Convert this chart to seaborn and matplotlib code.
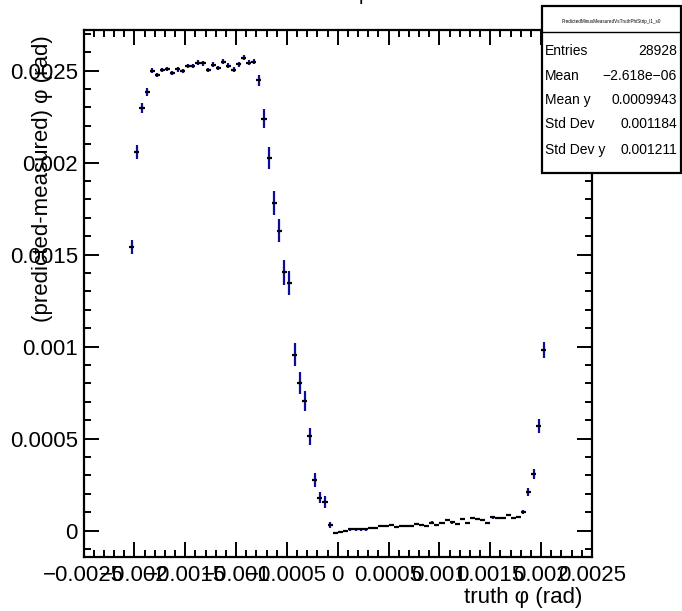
import matplotlib
matplotlib.use("Agg")
import matplotlib.pyplot as plt
import numpy as np
import seaborn as sns
from matplotlib.lines import Line2D
from matplotlib.patches import Rectangle

# profile binning (82 bins of 5e-5 rad)
BIN_LOW, BIN_HIGH, N_BINS = -0.00205, 0.00205, 82

MEAN_DIFF = [
    0.001542, 0.002056, 0.002297, 0.002384, 0.002500, 0.002477, 0.002504, 0.002509,
    0.002488, 0.002507, 0.002498, 0.002525, 0.002525, 0.002544, 0.002540, 0.002504,
    0.002533, 0.002513, 0.002549, 0.002527, 0.002506, 0.002534, 0.002571, 0.002544,
    0.002549, 0.002447, 0.002240, 0.002026, 0.001781, 0.001630, 0.001404, 0.001346,
    0.000957, 0.000804, 0.000705, 0.000513, 0.000277, 0.000179, 0.000158, 0.000031,
    -0.000011, -0.000009, 0.000000, 0.000007, 0.000007, 0.000007, 0.000007, 0.000015,
    0.000016, 0.000025, 0.000024, 0.000029, 0.000020, 0.000024, 0.000024, 0.000024,
    0.000038, 0.000033, 0.000024, 0.000044, 0.000033, 0.000042, 0.000058, 0.000045,
    0.000038, 0.000062, 0.000040, 0.000069, 0.000062, 0.000060, 0.000042, 0.000072,
    0.000069, 0.000069, 0.000085, 0.000070, 0.000074, 0.000103, 0.000208, 0.000310,
    0.000567, 0.000984,
]

MEAN_ERR = [
    0.000038, 0.000038, 0.000025, 0.000020, 0.000012, 0.000012, 0.000012, 0.000012,
    0.000012, 0.000012, 0.000012, 0.000012, 0.000012, 0.000012, 0.000012, 0.000012,
    0.000012, 0.000012, 0.000012, 0.000012, 0.000012, 0.000012, 0.000012, 0.000012,
    0.000012, 0.000031, 0.000049, 0.000058, 0.000063, 0.000063, 0.000067, 0.000066,
    0.000063, 0.000060, 0.000056, 0.000047, 0.000038, 0.000029, 0.000033, 0.000018,
    0.000006, 0.000006, 0.000006, 0.000006, 0.000006, 0.000006, 0.000006, 0.000006,
    0.000006, 0.000006, 0.000006, 0.000006, 0.000006, 0.000006, 0.000006, 0.000006,
    0.000006, 0.000006, 0.000006, 0.000006, 0.000006, 0.000006, 0.000006, 0.000006,
    0.000006, 0.000006, 0.000006, 0.000006, 0.000006, 0.000006, 0.000006, 0.000006,
    0.000006, 0.000006, 0.000006, 0.000006, 0.000006, 0.000012, 0.000022, 0.000027,
    0.000038, 0.000043,
]

X_TICKS = [-0.0025, -0.002, -0.0015, -0.001, -0.0005, 0, 0.0005, 0.001, 0.0015, 0.002, 0.0025]
X_TICK_LABELS = ["\u22120.0025", "\u22120.002", "\u22120.0015", "\u22120.001", "\u22120.0005",
                 "0", "0.0005", "0.001", "0.0015", "0.002", "0.0025"]
Y_TICKS = [0, 0.0005, 0.001, 0.0015, 0.002, 0.0025]
Y_TICK_LABELS = ["0", "0.0005", "0.001", "0.0015", "0.002", "0.0025"]

STATS_TITLE = "PredictedMinusMeasuredVsTruthPhiStrip_l1_s0"
STATS_NAMES = ["Entries", "Mean", "Mean y", "Std Dev", "Std Dev y"]
STATS_VALUES = ["28928", "\u22122.618e\u221206", "0.0009943", "0.001184", "0.001211"]

W, H = 682, 611
BLUE = "#0d0d9c"


def fx(px):
    return px / W


def fy(py):
    return 1 - py / H


sns.set_style("ticks")
plt.rcParams["font.family"] = ["Liberation Sans", "DejaVu Sans"]
plt.rcParams["text.color"] = "black"
plt.rcParams["xtick.labelcolor"] = "black"
plt.rcParams["ytick.labelcolor"] = "black"

edges = np.linspace(BIN_LOW, BIN_HIGH, N_BINS + 1)
centers = 0.5 * (edges[:-1] + edges[1:])
half_w = 0.5 * (edges[1] - edges[0])

fig = plt.figure(figsize=(W / 100, H / 100), dpi=100)
ax = fig.add_axes([fx(83.5), fy(557), (592 - 83.5) / W, (557 - 30) / H])

ax.errorbar(centers, MEAN_DIFF, yerr=MEAN_ERR, fmt="none", ecolor=BLUE, elinewidth=1.6)
ax.errorbar(centers, MEAN_DIFF, xerr=half_w, fmt="none", ecolor="black", elinewidth=1.6)
sns.scatterplot(x=centers, y=MEAN_DIFF, ax=ax, color="black", marker="s", s=3,
                linewidth=0, legend=False)

ax.set_xlim(-0.0025, 0.0025)
ax.set_ylim(-0.000143, 0.002721)
ax.set_xticks(X_TICKS, X_TICK_LABELS)
ax.set_yticks(Y_TICKS, Y_TICK_LABELS)
ax.xaxis.set_minor_locator(matplotlib.ticker.MultipleLocator(0.0001))
ax.yaxis.set_minor_locator(matplotlib.ticker.MultipleLocator(0.0001))
ax.tick_params(which="both", direction="in", top=True, right=True, width=1.4,
               color="black", labelcolor="black")
ax.tick_params(which="major", length=10.5, labelsize=16)
ax.tick_params(axis="x", which="major", pad=5.8)
ax.tick_params(axis="y", which="major", pad=4)
ax.tick_params(which="minor", length=5.2)
for sp in ax.spines.values():
    sp.set_linewidth(1.6)
    sp.set_color("black")
ax.set_xlabel("")
ax.set_ylabel("")

fig.text(fx(582), fy(597), "truth \u03c6 (rad)", ha="right", va="center", fontsize=16)
fig.text(fx(43), fy(35), "(predicted-measured) \u03c6 (rad)", rotation=90,
         ha="center", va="top", fontsize=16)

# clipped title descender
fig.text(fx(358.5), 1.0, "p", ha="left", va="baseline", fontsize=14)

# stats box
fig.patches.append(Rectangle((fx(541.5), fy(173.3)), fx(681) - fx(541.5), fy(6) - fy(173.3),
                             transform=fig.transFigure, facecolor="white",
                             edgecolor="black", linewidth=1.6, zorder=5))
fig.lines.append(Line2D([fx(541.5), fx(681)], [fy(32.3), fy(32.3)],
                        transform=fig.transFigure, color="black", linewidth=1.0, zorder=6))
fig.text(fx(611), fy(21), STATS_TITLE, ha="center", va="center", fontsize=3.3, zorder=7)
row_y = [50.7, 76, 100, 124.3, 150]
for name, val, ry in zip(STATS_NAMES, STATS_VALUES, row_y):
    fig.text(fx(545), fy(ry), name, ha="left", va="center", fontsize=10, zorder=7)
    fig.text(fx(677), fy(ry), val, ha="right", va="center", fontsize=10, zorder=7)

fig.savefig("out.png", dpi=100)
